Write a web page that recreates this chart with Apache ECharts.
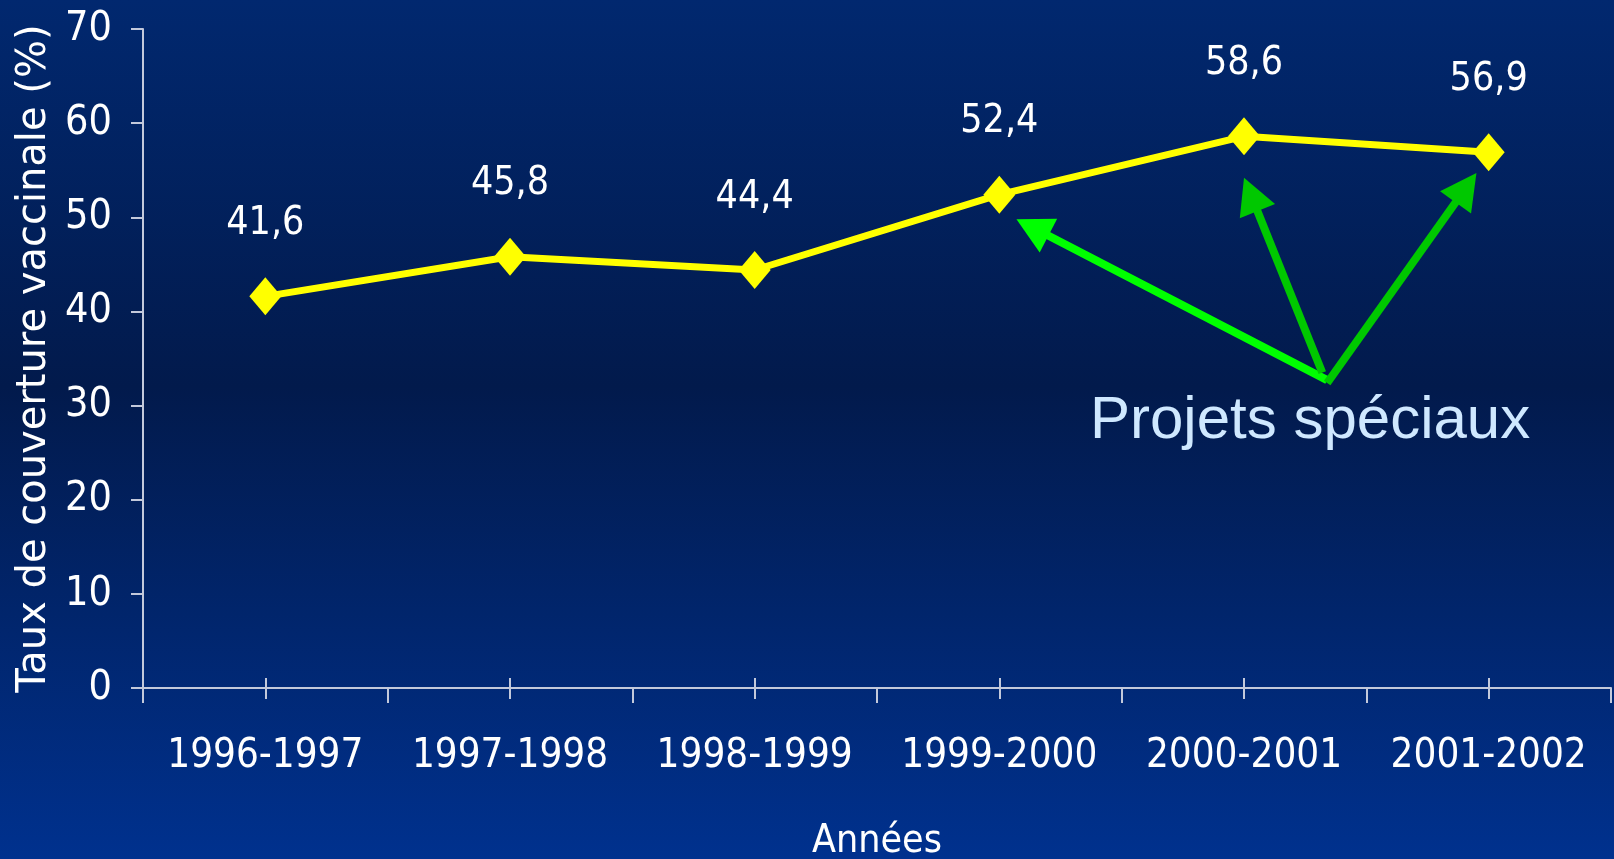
<!DOCTYPE html>
<html>
<head>
<meta charset="utf-8">
<script src="https://cdn.jsdelivr.net/npm/echarts@6/dist/echarts.min.js"></script>
<style>
  html, body { margin: 0; padding: 0; background: #011f5c; }
  #chart { width: 1614px; height: 859px; }
</style>
</head>
<body>
<div id="chart"></div>
<script>
// données
const annees = ['1996-1997', '1997-1998', '1998-1999', '1999-2000', '2000-2001', '2001-2002']
const couverture = [41.6, 45.8, 44.4, 52.4, 58.6, 56.9]
const yTicks = [0, 10, 20, 30, 40, 50, 60, 70]

// flèches "Projets spéciaux" : [index catégorie, valeur] départ -> pointe
const fleches = [
  { from: [4.34, 32.7], to: [3.07, 49.8], color: '#00ff00' },
  { from: [4.32, 33.5], to: [4.0, 54.2], color: '#00c800' },
  { from: [4.34, 32.4], to: [4.95, 54.7], color: '#00c800' }
]

const narrow = "'Liberation Sans Narrow', 'Arial Narrow', 'DejaVu Sans Condensed', sans-serif"
const axisColor = '#c3c9db'

const chart = echarts.init(document.getElementById('chart'))

chart.setOption({
  animation: false,
  backgroundColor: {
    type: 'linear', x: 0, y: 0, x2: 0, y2: 1,
    colorStops: [
      { offset: 0, color: '#01286f' },
      { offset: 0.45, color: '#021a4c' },
      { offset: 1, color: '#00318e' }
    ]
  },
  grid: { left: 143, right: 3, top: 29, bottom: 171, containLabel: false, outerBoundsMode: 'none' },
  xAxis: [
    {
      type: 'category',
      data: annees,
      position: 'bottom',
      boundaryGap: true,
      axisLine: { onZero: false, lineStyle: { color: axisColor, width: 2 } },
      axisTick: { show: true, inside: false, length: 15, alignWithLabel: false, interval: 0, lineStyle: { color: axisColor, width: 2 } },
      axisLabel: { color: '#ffffff', fontFamily: narrow, fontSize: 40, margin: 49, interval: 0 },
      name: 'Années',
      nameLocation: 'middle',
      nameGap: 134,
      nameTextStyle: { color: '#ffffff', fontFamily: narrow, fontSize: 39 }
    },
    {
      type: 'category',
      data: annees,
      position: 'bottom',
      axisLine: { show: false, onZero: false },
      axisTick: { show: true, inside: true, length: 10, alignWithLabel: true, interval: 0, lineStyle: { color: axisColor, width: 2 } },
      axisLabel: { show: false }
    },
    {
      type: 'category',
      data: annees,
      position: 'bottom',
      axisLine: { show: false, onZero: false },
      axisTick: { show: true, inside: false, length: 11, alignWithLabel: true, interval: 0, lineStyle: { color: axisColor, width: 2 } },
      axisLabel: { show: false }
    },
    {
      // axe caché pour placer les flèches
      type: 'value',
      min: -0.5,
      max: 5.5,
      show: false
    }
  ],
  yAxis: {
    type: 'value',
    min: yTicks[0],
    max: yTicks[yTicks.length - 1],
    interval: 10,
    axisLine: { show: true, onZero: false, lineStyle: { color: axisColor, width: 2 } },
    axisTick: { show: true, length: 12, lineStyle: { color: axisColor, width: 2 } },
    splitLine: { show: false },
    axisLabel: { color: '#ffffff', fontFamily: narrow, fontSize: 41, margin: 31 },
    name: 'Taux de couverture vaccinale (%)',
    nameLocation: 'middle',
    nameGap: 88,
    nameTextStyle: { color: '#ffffff', fontFamily: "'DejaVu Sans', sans-serif", fontSize: 40 }
  },
  series: [
    {
      type: 'line',
      xAxisIndex: 0,
      data: couverture,
      symbol: 'diamond',
      symbolSize: [32, 38],
      lineStyle: { color: '#ffff00', width: 7 },
      itemStyle: { color: '#ffff00' },
      label: {
        show: true,
        position: 'top',
        distance: 34,
        color: '#ffffff',
        fontFamily: narrow,
        fontSize: 39,
        formatter: (p) => String(p.value).replace('.', ',')
      }
    }
  ]
})

function drawArrows() {
  const elements = []
  fleches.forEach((f) => {
    const a = chart.convertToPixel({ xAxisIndex: 3, yAxisIndex: 0 }, f.from)
    const b = chart.convertToPixel({ xAxisIndex: 3, yAxisIndex: 0 }, f.to)
    const dx = b[0] - a[0]
    const dy = b[1] - a[1]
    const len = Math.sqrt(dx * dx + dy * dy)
    const ux = dx / len
    const uy = dy / len
    const headLen = 36
    const headHalf = 19
    const bx = b[0] - ux * headLen
    const by = b[1] - uy * headLen
    elements.push({
      type: 'line',
      shape: { x1: a[0], y1: a[1], x2: bx + ux * 2, y2: by + uy * 2 },
      style: { stroke: f.color, lineWidth: 8 },
      z: 10
    })
    elements.push({
      type: 'polygon',
      shape: { points: [[b[0], b[1]], [bx - uy * headHalf, by + ux * headHalf], [bx + uy * headHalf, by - ux * headHalf]] },
      style: { fill: f.color },
      z: 10
    })
  })
  elements.push({
    type: 'text',
    x: 1090,
    y: 391,
    style: {
      text: 'Projets spéciaux',
      fill: '#cfe8ff',
      font: "60px 'Liberation Sans', Arial, sans-serif",
      textVerticalAlign: 'top'
    },
    z: 10
  })
  chart.setOption({ graphic: elements })
}

drawArrows()
</script>
</body>
</html>
